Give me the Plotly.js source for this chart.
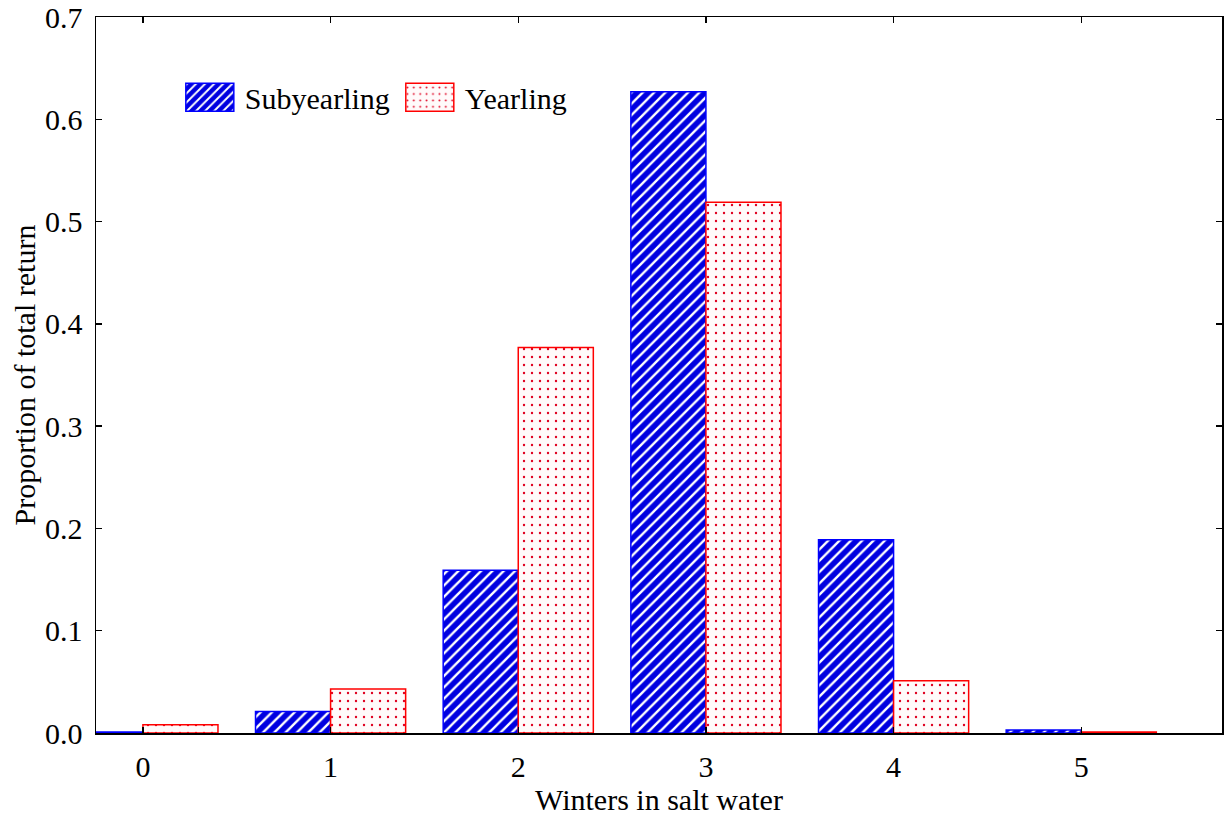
<!DOCTYPE html>
<html>
<head>
<meta charset="utf-8">
<script src="https://cdn.plot.ly/plotly-3.0.1.min.js"></script>
<style>
  html, body { margin: 0; padding: 0; background: #fff; }
  #chart { width: 1225px; height: 818px; }
</style>
</head>
<body>
<div id="chart"></div>
<script>
// Winters spent in salt water before return
const winters = [0, 1, 2, 3, 4, 5];
const tickLabels = ['0', '1', '2', '3', '4', '5'];

// Proportion of total return by smolt age
const subyearling = [0.001, 0.021, 0.159, 0.627, 0.189, 0.003];
const yearling    = [0.008, 0.043, 0.377, 0.519, 0.051, 0.001];

const serif = 'Liberation Serif, Times New Roman, serif';

const traces = [
  {
    type: 'bar',
    name: 'Subyearling',
    x: winters,
    y: subyearling,
    marker: {
      color: '#0000e0',
      line: { color: '#0000ff', width: 1.5 },
      pattern: { shape: '/', fgcolor: '#ffffff', bgcolor: '#0000e0', size: 8, solidity: 0.3 }
    },
    hoverinfo: 'x+y'
  },
  {
    type: 'bar',
    name: 'Yearling',
    x: winters,
    y: yearling,
    marker: {
      color: '#fff8f8',
      line: { color: '#ff0000', width: 1.5 },
      pattern: { shape: '.', fgcolor: '#e00020', bgcolor: '#fffafa', size: 8, solidity: 0.07 }
    },
    hoverinfo: 'x+y'
  }
];

const layout = {
  width: 1225,
  height: 818,
  margin: { l: 96, r: 3, t: 17, b: 85 },
  paper_bgcolor: '#ffffff',
  plot_bgcolor: '#ffffff',
  font: { family: serif, size: 30, color: '#000' },
  barmode: 'group',
  bargap: 0.2,
  bargroupgap: 0,
  showlegend: true,
  legend: {
    orientation: 'h',
    x: 0.07, y: 0.888,
    xanchor: 'left', yanchor: 'middle',
    bgcolor: 'rgba(0,0,0,0)',
    font: { family: serif, size: 30 },
    itemwidth: 60,
    traceorder: 'normal'
  },
  xaxis: {
    type: 'linear',
    range: [-0.25, 5.75],
    tickvals: winters,
    ticktext: tickLabels,
    ticks: 'inside',
    ticklen: 6,
    tickwidth: 1.5,
    tickcolor: '#000',
    showline: true,
    linecolor: '#000',
    linewidth: 1.5,
    mirror: 'ticks',
    showgrid: false,
    zeroline: false,
    ticklabelstandoff: 6,
    title: { text: 'Winters in salt water', font: { family: serif, size: 30 }, standoff: 6 },
    tickfont: { family: serif, size: 30 }
  },
  yaxis: {
    range: [0, 0.7],
    dtick: 0.1,
    tickformat: '.1f',
    ticks: 'inside',
    ticklen: 6,
    tickwidth: 1.5,
    tickcolor: '#000',
    showline: true,
    linecolor: '#000',
    linewidth: 1.5,
    mirror: 'ticks',
    showgrid: false,
    zeroline: false,
    ticklabelstandoff: 6,
    title: { text: 'Proportion of total return', font: { family: serif, size: 30 }, standoff: 0 },
    tickfont: { family: serif, size: 30 }
  }
};

Plotly.newPlot('chart', traces, layout, { staticPlot: true }).then(function (gd) {
  // widen the legend swatches into rectangles
  gd.querySelectorAll('.legend .legendpoints path').forEach(function (p) {
    p.setAttribute('d', 'M24,14H-24V-14H24Z');
  });
});
</script>
</body>
</html>
